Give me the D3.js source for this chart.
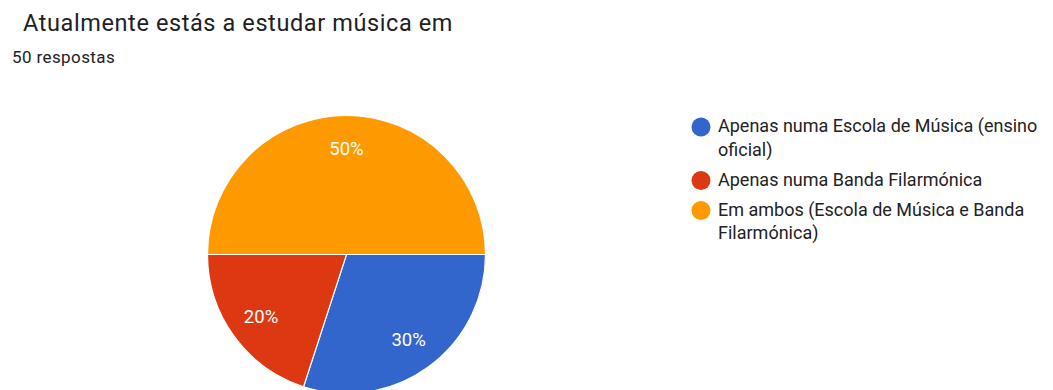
<!DOCTYPE html>
<html>
<head>
<meta charset="utf-8">
<script src="https://cdn.jsdelivr.net/npm/d3@7"></script>
<style>
  html, body { margin: 0; padding: 0; background: #fff; }
  svg { display: block; font-family: Roboto, "Noto Sans", Arial, sans-serif; }
</style>
</head>
<body>
<svg id="chart" width="1053" height="390"></svg>
<script>
// Survey answers: where the respondent currently studies music
const categories = [
  ["Apenas numa Escola de Música (ensino", "oficial)"],
  ["Apenas numa Banda Filarmónica"],
  ["Em ambos (Escola de Música e Banda", "Filarmónica)"]
];
const values = [30, 20, 50];          // percentage of 50 responses
const colors = ["#3366CC", "#DC3912", "#FF9900"];
const title = "Atualmente estás a estudar música em";
const subtitle = "50 respostas";

const svg = d3.select("#chart");

svg.append("text")
  .attr("x", 23).attr("y", 31)
  .attr("font-size", 23.5)
  .attr("letter-spacing", 0.6)
  .attr("fill", "#202124")
  .text(title);

svg.append("text")
  .attr("x", 12).attr("y", 62.5)
  .attr("font-size", 17)
  .attr("letter-spacing", 0.4)
  .attr("fill", "#202124")
  .text(subtitle);

// Pie, starting at 3 o'clock and running clockwise
const cx = 346.5, cy = 254.5, r = 139;
const pie = d3.pie().sort(null)
  .startAngle(Math.PI / 2).endAngle(Math.PI / 2 + 2 * Math.PI);
const arcs = pie(values);
const arc = d3.arc().innerRadius(0).outerRadius(r);
const labelArc = d3.arc().innerRadius(r * 0.76).outerRadius(r * 0.76);

const g = svg.append("g").attr("transform", `translate(${cx},${cy})`);
g.selectAll("path.slice")
  .data(arcs)
  .join("path")
  .attr("class", "slice")
  .attr("d", arc)
  .attr("fill", (d, i) => colors[i])
  .attr("stroke", "#fff")
  .attr("stroke-width", 1.2);

g.selectAll("text.pct")
  .data(arcs)
  .join("text")
  .attr("class", "pct")
  .attr("transform", d => `translate(${labelArc.centroid(d)})`)
  .attr("text-anchor", "middle")
  .attr("dominant-baseline", "central")
  .attr("font-size", 18.5)
  .attr("fill", "#fff")
  .text(d => d3.format(".0%")(d.data / d3.sum(values)));

// Legend
const legend = svg.append("g");
let y = 132;
categories.forEach((lines, i) => {
  legend.append("circle")
    .attr("cx", 701).attr("cy", y - 5)
    .attr("r", 9.5)
    .attr("fill", colors[i]);
  lines.forEach((ln, j) => {
    legend.append("text")
      .attr("x", 718).attr("y", y + j * 23.5)
      .attr("font-size", 18)
      .attr("fill", "#222")
      .text(ln);
  });
  y += (lines.length - 1) * 23.5 + 30;
});
</script>
</body>
</html>
